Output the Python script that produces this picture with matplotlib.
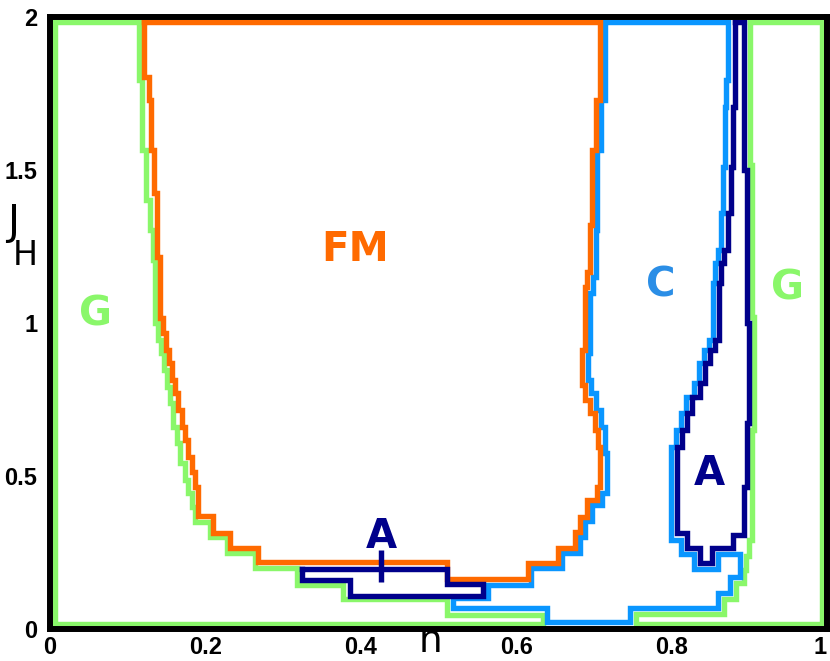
import matplotlib.pyplot as plt

# phase boundaries (n, J_H)
g_left_n = [0.007, 0.007, 0.115, 0.115, 0.118, 0.118, 0.124, 0.124, 0.129, 0.129, 0.133, 0.133,
            0.135, 0.135, 0.139, 0.139, 0.143, 0.143, 0.147, 0.147, 0.151, 0.151, 0.154, 0.154,
            0.158, 0.158, 0.163, 0.163, 0.167, 0.167, 0.174, 0.174, 0.178, 0.178, 0.183, 0.183,
            0.187, 0.187, 0.206, 0.206, 0.228, 0.228, 0.264, 0.264, 0.318, 0.318, 0.377, 0.377,
            0.511, 0.511, 0.634, 0.634, 0.007]
g_left_j = [0.016, 1.982, 1.982, 1.794, 1.794, 1.565, 1.565, 1.402, 1.402, 1.304, 1.304, 1.206,
            1.206, 1.000, 1.000, 0.944, 0.944, 0.902, 0.902, 0.846, 0.846, 0.791, 0.791, 0.739,
            0.739, 0.660, 0.660, 0.608, 0.608, 0.542, 0.542, 0.487, 0.487, 0.444, 0.444, 0.399,
            0.399, 0.350, 0.350, 0.301, 0.301, 0.248, 0.248, 0.199, 0.199, 0.144, 0.144, 0.098,
            0.098, 0.046, 0.046, 0.016, 0.016]

g_right_n = [0.901, 0.994, 0.994, 0.754, 0.754, 0.867, 0.867, 0.883, 0.883, 0.893, 0.893, 0.896,
             0.896, 0.900, 0.900, 0.903, 0.903, 0.906, 0.906, 0.903, 0.903, 0.901, 0.901]
g_right_j = [1.982, 1.982, 0.016, 0.016, 0.049, 0.049, 0.098, 0.098, 0.150, 0.150, 0.193, 0.193,
             0.239, 0.239, 0.291, 0.291, 0.650, 0.650, 1.020, 1.020, 1.516, 1.516, 1.982]

fm_n = [0.121, 0.708, 0.708, 0.703, 0.703, 0.698, 0.698, 0.695, 0.695, 0.691, 0.691, 0.689,
        0.689, 0.685, 0.685, 0.689, 0.689, 0.695, 0.695, 0.701, 0.701, 0.705, 0.705, 0.708,
        0.708, 0.704, 0.704, 0.691, 0.691, 0.682, 0.682, 0.676, 0.676, 0.654, 0.654, 0.615,
        0.615, 0.511, 0.511, 0.268, 0.268, 0.232, 0.232, 0.210, 0.210, 0.190, 0.190, 0.187,
        0.187, 0.183, 0.183, 0.178, 0.178, 0.174, 0.174, 0.170, 0.170, 0.165, 0.165, 0.161,
        0.161, 0.157, 0.157, 0.153, 0.153, 0.149, 0.149, 0.145, 0.145, 0.142, 0.142, 0.138,
        0.138, 0.134, 0.134, 0.130, 0.130, 0.127, 0.127, 0.121, 0.121]
fm_j = [1.984, 1.984, 1.729, 1.729, 1.565, 1.565, 1.320, 1.320, 1.167, 1.167, 1.118, 1.118,
        0.912, 0.912, 0.797, 0.797, 0.748, 0.748, 0.706, 0.706, 0.650, 0.650, 0.595, 0.595,
        0.464, 0.464, 0.422, 0.422, 0.366, 0.366, 0.317, 0.317, 0.265, 0.265, 0.216, 0.216,
        0.163, 0.163, 0.219, 0.219, 0.265, 0.265, 0.314, 0.314, 0.369, 0.369, 0.464, 0.464,
        0.513, 0.513, 0.562, 0.562, 0.618, 0.618, 0.660, 0.660, 0.716, 0.716, 0.771, 0.771,
        0.814, 0.814, 0.869, 0.869, 0.912, 0.912, 0.967, 0.967, 1.016, 1.016, 1.216, 1.216,
        1.425, 1.425, 1.565, 1.565, 1.729, 1.729, 1.804, 1.804, 1.984]

c_n = [0.714, 0.873, 0.873, 0.870, 0.870, 0.869, 0.869, 0.866, 0.866, 0.864, 0.864, 0.860,
       0.860, 0.856, 0.856, 0.853, 0.853, 0.848, 0.848, 0.842, 0.842, 0.835, 0.835, 0.829,
       0.829, 0.819, 0.819, 0.812, 0.812, 0.806, 0.806, 0.799, 0.799, 0.812, 0.812, 0.829,
       0.829, 0.860, 0.860, 0.888, 0.888, 0.875, 0.875, 0.860, 0.860, 0.746, 0.746, 0.640,
       0.640, 0.519, 0.519, 0.564, 0.564, 0.619, 0.619, 0.659, 0.659, 0.682, 0.682, 0.689,
       0.689, 0.698, 0.698, 0.710, 0.710, 0.717, 0.717, 0.714, 0.714, 0.709, 0.709, 0.703,
       0.703, 0.696, 0.696, 0.692, 0.692, 0.695, 0.695, 0.699, 0.699, 0.703, 0.703, 0.704,
       0.704, 0.709, 0.709, 0.714, 0.714]
c_j = [1.984, 1.984, 1.794, 1.794, 1.706, 1.706, 1.510, 1.510, 1.359, 1.359, 1.239, 1.239,
       1.196, 1.196, 1.131, 1.131, 0.944, 0.944, 0.912, 0.912, 0.869, 0.869, 0.804, 0.804,
       0.758, 0.758, 0.706, 0.706, 0.650, 0.650, 0.595, 0.595, 0.291, 0.291, 0.245, 0.245,
       0.196, 0.196, 0.245, 0.245, 0.170, 0.170, 0.118, 0.118, 0.069, 0.069, 0.023, 0.023,
       0.069, 0.069, 0.101, 0.101, 0.144, 0.144, 0.199, 0.199, 0.248, 0.248, 0.301, 0.301,
       0.353, 0.353, 0.405, 0.405, 0.444, 0.444, 0.575, 0.575, 0.660, 0.660, 0.716, 0.716,
       0.771, 0.771, 0.814, 0.814, 0.902, 0.902, 1.098, 1.098, 1.150, 1.150, 1.304, 1.304,
       1.565, 1.565, 1.729, 1.729, 1.984]

a_right_n = [0.882, 0.893, 0.893, 0.897, 0.897, 0.900, 0.900, 0.897, 0.897, 0.893, 0.893, 0.879,
             0.879, 0.852, 0.852, 0.837, 0.837, 0.820, 0.820, 0.807, 0.807, 0.813, 0.813, 0.820,
             0.820, 0.826, 0.826, 0.837, 0.837, 0.843, 0.843, 0.849, 0.849, 0.856, 0.856, 0.861,
             0.861, 0.864, 0.864, 0.867, 0.867, 0.873, 0.873, 0.876, 0.876, 0.879, 0.879, 0.882,
             0.882]
a_right_j = [1.984, 1.984, 1.500, 1.500, 1.000, 1.000, 0.673, 0.673, 0.464, 0.464, 0.307, 0.307,
             0.265, 0.265, 0.216, 0.216, 0.265, 0.265, 0.314, 0.314, 0.595, 0.595, 0.650, 0.650,
             0.706, 0.706, 0.758, 0.758, 0.804, 0.804, 0.869, 0.869, 0.912, 0.912, 0.944, 0.944,
             1.131, 1.131, 1.196, 1.196, 1.239, 1.239, 1.359, 1.359, 1.510, 1.510, 1.706, 1.706,
             1.984]

a_box_n = [0.324, 0.511, 0.511, 0.557, 0.557, 0.386, 0.386, 0.324, 0.324]
a_box_j = [0.196, 0.196, 0.147, 0.147, 0.108, 0.108, 0.160, 0.160, 0.196]
a_mark_n = [0.426, 0.426]
a_mark_j = [0.258, 0.154]

# region labels: text, n, J, colour
labels = [('FM', 0.393, 1.239, '#ff6a00'),
          ('G', 0.058, 1.029, '#8af76a'),
          ('G', 0.949, 1.114, '#8af76a'),
          ('C', 0.786, 1.124, '#2b8ee6'),
          ('A', 0.849, 0.507, '#00008b'),
          ('A', 0.427, 0.301, '#00008b')]

xticks = [0, 0.2, 0.4, 0.6, 0.8, 1]
xticklabels = ['0', '0.2', '0.4', '0.6', '0.8', '1']
yticks = [0, 0.5, 1, 1.5, 2]
yticklabels = ['0', '0.5', '1', '1.5', '2']

fig = plt.figure(figsize=(8.3, 6.61), dpi=100)
ax = fig.add_axes([0.0602, 0.0484, 0.9361, 0.9259])

lw = 3.9
kw = dict(lw=lw, solid_joinstyle='miter', solid_capstyle='projecting')
ax.plot(g_left_n, g_left_j, color='#8af76a', **kw)
ax.plot(g_right_n, g_right_j, color='#8af76a', **kw)
ax.plot(c_n, c_j, color='#0a96ff', **kw)
ax.plot(fm_n, fm_j, color='#ff6a00', **kw)
ax.plot(a_right_n, a_right_j, color='#00008b', **kw)
ax.plot(a_box_n, a_box_j, color='#00008b', **kw)
ax.plot(a_mark_n, a_mark_j, color='#00008b', lw=lw, solid_capstyle='butt')

for txt, xn, yj, col in labels:
    ax.text(xn, yj, txt, color=col, fontsize=29, fontweight='bold',
            family='DejaVu Sans', ha='center', va='center')

ax.set_xlim(0, 1)
ax.set_ylim(0, 2)
ax.set_xticks(xticks)
ax.set_xticklabels(xticklabels)
ax.set_yticks(yticks)
ax.set_yticklabels(yticklabels)
ax.tick_params(axis='y', length=0, pad=9)
ax.tick_params(axis='x', length=0, pad=5)
for lab in ax.get_xticklabels() + ax.get_yticklabels():
    lab.set_family('Liberation Sans')
    lab.set_fontweight('bold')
    lab.set_fontsize(17)
ax.get_xticklabels()[-1].set_horizontalalignment('right')
for sp in ax.spines.values():
    sp.set_linewidth(4.3)
    sp.set_color('black')

fig.text(0.519, 0.0136, 'n', fontsize=27, ha='center', va='baseline', family='DejaVu Sans')
fig.text(0.0157, 0.646, 'J', fontsize=29, ha='center', va='baseline', family='DejaVu Sans')
fig.text(0.030, 0.599, 'H', fontsize=24, ha='center', va='baseline', family='DejaVu Sans')

fig.savefig('out.png', dpi=100)
